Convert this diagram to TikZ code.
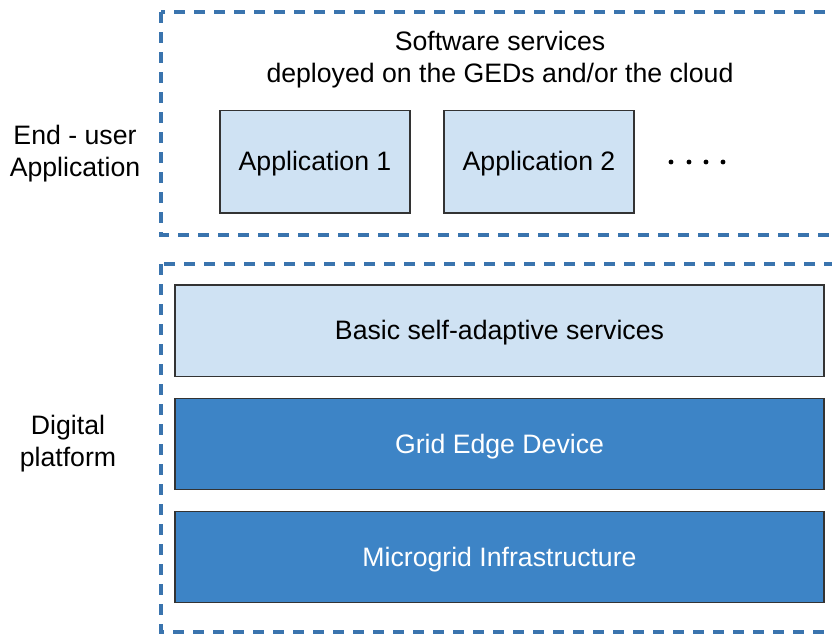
\documentclass[tikz,border=0pt]{standalone}
\usepackage{fontspec}
\setmainfont{Liberation Sans}
\usepackage{tikz}
\usetikzlibrary{positioning}
\definecolor{dashblue}{HTML}{3A74AE}
\definecolor{lightfill}{HTML}{CFE2F3}
\definecolor{darkfill}{HTML}{3D84C6}
\tikzset{
  txt/.style={font=\fontsize{20}{24}\selectfont, align=center},
  zone/.style={draw=dashblue, line width=2.4pt, dash pattern=on 8pt off 7pt},
  boxtxt/.style={txt, text height=18pt, text depth=4.5pt},
  appbox/.style={boxtxt, draw=black!80, line width=1pt, fill=lightfill, inner sep=0pt,
    minimum width=142.5pt, minimum height=77pt},
  layer/.style={boxtxt, draw=black!80, line width=1pt, inner sep=0pt,
    minimum width=486.75pt, minimum height=68.5pt}}

\begin{document}
\begin{tikzpicture}[x=0.75pt, y=-0.75pt]
	\useasboundingbox (0,0) rectangle (832,633);
	\begin{scope}
	\clip (0,0) rectangle (832,633);
	\draw [zone] (161,12) rectangle (860,235);
	\draw [zone] (161,264) rectangle (860,632);
	\end{scope}
	% upper zone
	\node [txt] (title) at (500,60) {Software services\\deployed on the GEDs and/or the cloud};
	\node [appbox] (app1) at (315,161.5) {Application 1};
	\node [appbox] (app2) at (539,161.5) {Application 2};
	\foreach \x in {671,689,706,723}
		\draw [fill] (\x,162) circle (1.6pt);
	\node [txt] (enduser) at (75,153.5) {End - user\\Application};
	% platform layers
	\node [layer, fill=lightfill] (basic) at (499.5,330.5) {Basic self-adaptive services};
	\node [layer, fill=darkfill, text=white] (ged) at (499.5,444) {Grid Edge Device};
	\node [layer, fill=darkfill, text=white] (micro) at (499.5,557) {Microgrid Infrastructure};
	\node [txt] (digital) at (68,443.5) {Digital\\platform};
\end{tikzpicture}
\end{document}
